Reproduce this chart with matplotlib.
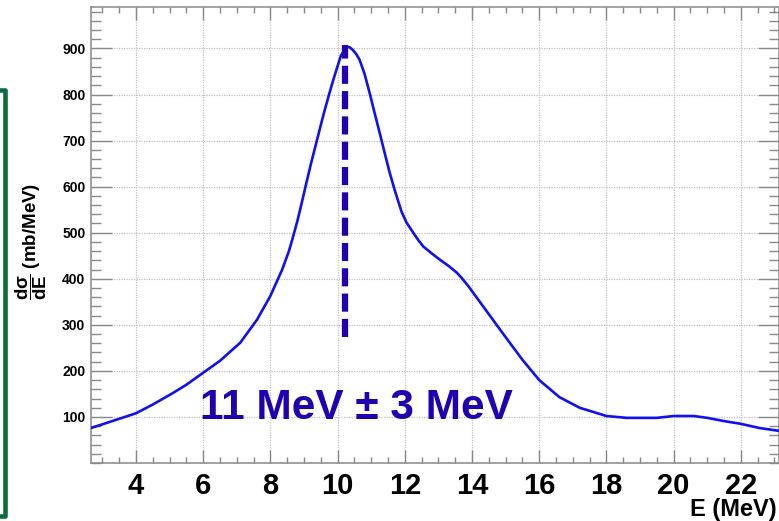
import matplotlib
matplotlib.use("Agg")
import matplotlib.pyplot as plt
from matplotlib.patches import Rectangle
from matplotlib.ticker import MultipleLocator

plt.rcParams['font.family'] = ['Liberation Sans', 'DejaVu Sans']
plt.rcParams['mathtext.fontset'] = 'custom'
plt.rcParams['mathtext.rm'] = 'Liberation Sans:bold'
plt.rcParams['mathtext.it'] = 'Liberation Sans:bold'
plt.rcParams['mathtext.bf'] = 'Liberation Sans:bold'

# ---------------- DATA ----------------
energy = [2.66, 3.0, 3.5, 4.0, 4.5, 5.1, 5.5, 6.0, 6.5, 7.1, 7.6, 8.0, 8.35, 8.55,
          8.65, 8.8, 8.9, 9.05, 9.2, 9.35, 9.5, 9.6, 9.76, 9.88, 10.0, 10.1,
          10.25, 10.35, 10.45, 10.55, 10.65, 10.8, 10.95, 11.1, 11.25, 11.4,
          11.55, 11.7, 11.9, 12.05, 12.25, 12.4, 12.55, 12.8, 13.05, 13.3,
          13.55, 13.7, 13.9, 14.4, 14.9, 15.5, 16.0, 16.6,
          17.2, 17.6, 18.0, 18.6, 19.5, 20.0, 20.6, 21.0, 21.5, 22.0, 22.55, 23.12]
dsigma = [76, 84, 96, 108, 127, 152, 170, 196, 222, 261, 311, 363, 420, 460,
          485, 525, 555, 602, 648, 691, 734, 762, 804, 834, 862, 885,
          902, 903, 897, 888, 876, 845, 804, 760, 717, 673,
          630, 592, 546, 522, 500, 484, 470, 455, 441, 428,
          413, 401, 383, 333, 283, 224, 180, 143,
          120, 111, 102, 98, 98, 102, 102, 98, 91, 85, 76, 70]

peak_e = 10.23
peak_range = (274, 908)
x_ticks = [4, 6, 8, 10, 12, 14, 16, 18, 20, 22]
y_ticks = [100, 200, 300, 400, 500, 600, 700, 800, 900]
note = "11 MeV \u00b1 3 MeV"

# ---------------- PLOT ----------------
W, H = 779, 521
fig = plt.figure(figsize=(W / 100, H / 100), dpi=100)
ax = fig.add_axes([91 / W, 1 - 463 / H, (778.5 - 91) / W, (463 - 7) / H])

ax.plot(energy, dsigma, color='#1010f0', lw=1.9, zorder=3,
        solid_joinstyle='round')
ax.plot([peak_e, peak_e], peak_range, color='#2000b0', lw=4.5,
        dashes=(2.9, 1.15), solid_capstyle='butt', dash_capstyle='butt', zorder=4)

ax.set_xlim(2.66, 23.12)
ax.set_ylim(0, 990)
ax.set_xticks(x_ticks)
ax.set_yticks(y_ticks)
ax.xaxis.set_minor_locator(MultipleLocator(0.5))
ax.yaxis.set_minor_locator(MultipleLocator(20))

grey = '#888888'
for s in ax.spines.values():
    s.set_color(grey)
    s.set_linewidth(1.1)

ax.tick_params(axis='x', which='both', direction='in', top=True, color=grey, width=1.0)
ax.tick_params(axis='x', which='major', length=9.5, pad=6.5, labelsize=21)
ax.tick_params(axis='x', which='minor', length=4.5)
ax.tick_params(axis='y', which='both', direction='in', right=True, color=grey, width=1.0)
ax.tick_params(axis='y', which='major', length=15, pad=4, labelsize=10)
ax.tick_params(axis='y', which='minor', length=7.5)
for lab in ax.get_xticklabels() + ax.get_yticklabels():
    lab.set_fontweight('bold')

ax.grid(True, which='major', color='#c0c0c0', lw=0.9, ls=(0, (1, 1)))
ax.set_axisbelow(True)

ax.text(5.9, 96, note, color='#2000b0', fontsize=30.5, fontweight='bold',
        ha='left', va='baseline', zorder=5)

fig.text(777 / W, 1 - 516 / H, "E (MeV)", fontsize=17, fontweight='bold',
         ha='right', va='baseline')
fig.text(31 / W, 1 - 241 / H, r"$\dfrac{d\sigma}{dE}$ (mb/MeV)", fontsize=13.5,
         fontweight='bold', rotation=90, ha='center', va='center')

# green frame on the left edge
fig.add_artist(Rectangle((-60 / W, 1 - 516 / H), 65 / W, (516 - 90) / H,
                         transform=fig.transFigure, fill=False,
                         edgecolor='#0b6b3b', lw=3.3, joinstyle='round'))

fig.savefig("out.png", dpi=100)
